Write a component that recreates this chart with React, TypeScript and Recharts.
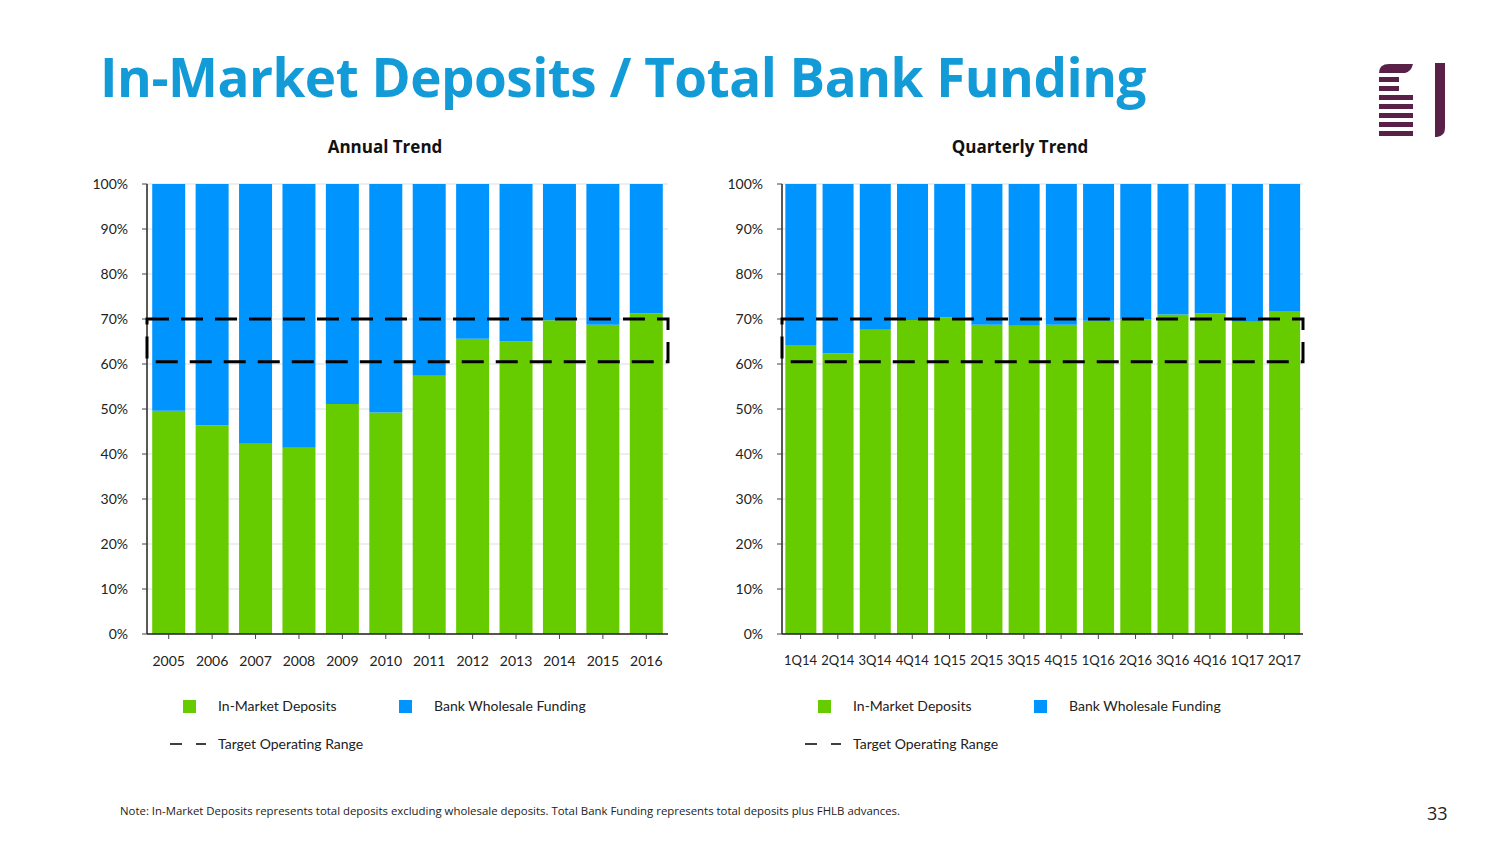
import React from "react";
import {
  BarChart,
  Bar,
  XAxis,
  YAxis,
  CartesianGrid,
  ReferenceArea,
} from "recharts";

const years = ["2005", "2006", "2007", "2008", "2009", "2010", "2011", "2012", "2013", "2014", "2015", "2016"];
const annualDeposits = [49.6, 46.4, 42.3, 41.4, 51.1, 49.2, 57.4, 65.6, 65.0, 69.7, 68.7, 71.3];

const quarters = ["1Q14", "2Q14", "3Q14", "4Q14", "1Q15", "2Q15", "3Q15", "4Q15", "1Q16", "2Q16", "3Q16", "4Q16", "1Q17", "2Q17"];
const quarterlyDeposits = [64.2, 62.4, 67.6, 69.8, 70.4, 68.7, 68.5, 68.7, 69.6, 69.9, 71.0, 71.3, 69.4, 71.8];

const yTicks = [0, 10, 20, 30, 40, 50, 60, 70, 80, 90, 100];
const targetLow = 60.5;
const targetHigh = 70;

const GREEN = "#66cc00";
const BLUE = "#0094ff";
const FONT = "'Open Sans', 'Noto Sans', sans-serif";
const TICK_FONT = "Lato, 'Open Sans', sans-serif";

const buildRows = (labels: string[], deposits: number[]) =>
  labels.map((label, i) => ({
    label,
    deposits: deposits[i],
    wholesale: +(100 - deposits[i]).toFixed(1),
  }));

function TrendChart({
  title,
  labels,
  deposits,
  gap,
  xFont,
}: {
  title: string;
  labels: string[];
  deposits: number[];
  gap: string;
  xFont: number;
}) {
  const rows = buildRows(labels, deposits);
  return (
    <div style={{ position: "relative", width: 600, height: 640 }}>
      <div
        style={{
          position: "absolute",
          left: 0,
          width: 610,
          top: 1,
          textAlign: "center",
          fontWeight: 700,
          fontSize: 17,
          color: "#111",
        }}
      >
        {title}
      </div>
      <div style={{ position: "absolute", left: 0, top: 36 }}>
        <BarChart
          width={600}
          height={520}
          data={rows}
          barCategoryGap={gap}
          margin={{ top: 14, right: 12, bottom: 26, left: 0 }}
        >
          <CartesianGrid vertical={false} stroke="#dddddd" />
          <XAxis
            dataKey="label"
            tickLine={{ stroke: "#444" }}
            tickSize={5}
            tickMargin={17}
            axisLine={{ stroke: "#222", strokeWidth: 1.5 }}
            tick={{ fill: "#222", fontSize: xFont, fontFamily: TICK_FONT }}
            height={30}
            interval={0}
          />
          <YAxis
            domain={[0, 100]}
            ticks={yTicks}
            tickFormatter={(v) => `${v}%`}
            tickLine={{ stroke: "#444" }}
            tickSize={5}
            tickMargin={14}
            axisLine={{ stroke: "#222", strokeWidth: 1.5 }}
            tick={{ fill: "#222", fontSize: 14, fontFamily: TICK_FONT }}
            width={67}
          />
          <Bar dataKey="deposits" stackId="a" fill={GREEN} isAnimationActive={false} />
          <Bar dataKey="wholesale" stackId="a" fill={BLUE} isAnimationActive={false} />
          <ReferenceArea
            x1={labels[0]}
            x2={labels[labels.length - 1]}
            y1={targetLow}
            y2={targetHigh}
            fill="none"
            stroke="#000"
            strokeWidth={3}
            strokeDasharray="22 12"
            ifOverflow="visible"
            zIndex={1000}
          />
        </BarChart>
      </div>
      <div style={{ position: "absolute", top: 566, left: 0, width: 600, fontSize: 14, fontFamily: TICK_FONT, color: "#222" }}>
        <div style={{ position: "absolute", left: 103, top: 0, width: 13, height: 13, background: GREEN }} />
        <div style={{ position: "absolute", left: 138, top: -3 }}>In-Market Deposits</div>
        <div style={{ position: "absolute", left: 319, top: 0, width: 13, height: 13, background: BLUE }} />
        <div style={{ position: "absolute", left: 354, top: -3 }}>Bank Wholesale Funding</div>
        <svg style={{ position: "absolute", left: 88, top: 42 }} width={40} height={4}>
          <line x1={2} y1={2} x2={38} y2={2} stroke="#000" strokeWidth={1.5} strokeDasharray="12 14" />
        </svg>
        <div style={{ position: "absolute", left: 138, top: 35 }}>Target Operating Range</div>
      </div>
    </div>
  );
}

function Logo() {
  const c = "#5a2148";
  return (
    <svg width={80} height={80} style={{ position: "absolute", left: 1375, top: 60 }}>
      <path d="M4 13 Q4 4 14 4 L38 4 Q36 12 30 13 Z" fill={c} />
      <rect x={4} y={17} width={20} height={5} fill={c} />
      <rect x={4} y={26} width={20} height={5} fill={c} />
      <rect x={4} y={35} width={34} height={5} fill={c} />
      <rect x={4} y={44} width={34} height={5} fill={c} />
      <rect x={4} y={53} width={34} height={5} fill={c} />
      <rect x={4} y={62} width={34} height={5} fill={c} />
      <rect x={4} y={71} width={34} height={5} fill={c} />
      <path d="M60 3 L70 3 L70 68 Q70 76 62 77 L60 77 Z" fill={c} />
    </svg>
  );
}

export default function App() {
  return (
    <div
      style={{
        position: "absolute",
        left: 0,
        top: 0,
        width: 1504,
        height: 846,
        background: "#fff",
        fontFamily: FONT,
        overflow: "hidden",
      }}
    >
      <div
        style={{
          position: "absolute",
          left: 100,
          top: 40,
          fontSize: 53,
          fontWeight: 700,
          color: "#139bd8",
          letterSpacing: -0.5,
          whiteSpace: "nowrap",
        }}
      >
        In-Market Deposits / Total Bank Funding
      </div>
      <Logo />
      <div style={{ position: "absolute", left: 80, top: 134 }}>
        <TrendChart title="Annual Trend" labels={years} deposits={annualDeposits} gap="12%" xFont={14} />
      </div>
      <div style={{ position: "absolute", left: 715, top: 134 }}>
        <TrendChart title="Quarterly Trend" labels={quarters} deposits={quarterlyDeposits} gap="9%" xFont={13} />
      </div>
      <div style={{ position: "absolute", left: 120, top: 803, fontSize: 11.4, color: "#222" }}>
        Note: In-Market Deposits represents total deposits excluding wholesale deposits. Total Bank Funding represents total deposits plus FHLB advances.
      </div>
      <div style={{ position: "absolute", left: 1427, top: 801, fontSize: 18, color: "#222" }}>33</div>
    </div>
  );
}
